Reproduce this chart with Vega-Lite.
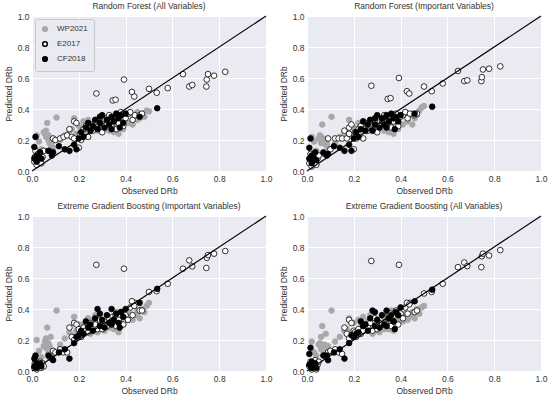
{
"$schema": "https://vega.github.io/schema/vega-lite/v6.json",
"padding": {"left": 4, "top": 1, "right": 2, "bottom": 2},
"background": "#ffffff",
"datasets": {
"diag": [{"x": 0, "y": 0, "x2": 1, "y2": 1}],
"pts": [
{"g":"WP2021","o":0.02,"p1":0.23,"p2":0.22,"p3":0.20,"p4":0.19},
{"g":"WP2021","o":0.03,"p1":0.19,"p2":0.19,"p3":0.13,"p4":0.12},
{"g":"WP2021","o":0.05,"p1":0.25,"p2":0.21,"p3":0.16,"p4":0.17},
{"g":"WP2021","o":0.055,"p1":0.24,"p2":0.23,"p3":0.19,"p4":0.18},
{"g":"WP2021","o":0.06,"p1":0.22,"p2":0.22,"p3":0.21,"p4":0.22},
{"g":"WP2021","o":0.065,"p1":0.31,"p2":0.30,"p3":0.28,"p4":0.29},
{"g":"WP2021","o":0.07,"p1":0.20,"p2":0.19,"p3":0.18,"p4":0.15},
{"g":"WP2021","o":0.07,"p1":0.23,"p2":0.21,"p3":0.12,"p4":0.13},
{"g":"WP2021","o":0.075,"p1":0.18,"p2":0.20,"p3":0.16,"p4":0.17},
{"g":"WP2021","o":0.08,"p1":0.17,"p2":0.17,"p3":0.22,"p4":0.24},
{"g":"WP2021","o":0.085,"p1":0.19,"p2":0.18,"p3":0.11,"p4":0.12},
{"g":"WP2021","o":0.105,"p1":0.345,"p2":0.35,"p3":0.39,"p4":0.39},
{"g":"WP2021","o":0.09,"p1":0.15,"p2":0.15,"p3":0.13,"p4":0.16},
{"g":"WP2021","o":0.04,"p1":0.14,"p2":0.13,"p3":0.09,"p4":0.10},
{"g":"WP2021","o":0.06,"p1":0.26,"p2":0.18,"p3":0.15,"p4":0.14},
{"g":"WP2021","o":0.12,"p1":0.20,"p2":0.18,"p3":0.17,"p4":0.19},
{"g":"WP2021","o":0.14,"p1":0.23,"p2":0.22,"p3":0.21,"p4":0.22},
{"g":"WP2021","o":0.16,"p1":0.26,"p2":0.25,"p3":0.25,"p4":0.26},
{"g":"WP2021","o":0.17,"p1":0.27,"p2":0.22,"p3":0.23,"p4":0.27},
{"g":"WP2021","o":0.18,"p1":0.34,"p2":0.33,"p3":0.35,"p4":0.34},
{"g":"WP2021","o":0.19,"p1":0.24,"p2":0.23,"p3":0.26,"p4":0.25},
{"g":"WP2021","o":0.2,"p1":0.29,"p2":0.28,"p3":0.30,"p4":0.31},
{"g":"WP2021","o":0.21,"p1":0.27,"p2":0.26,"p3":0.22,"p4":0.23},
{"g":"WP2021","o":0.22,"p1":0.32,"p2":0.31,"p3":0.30,"p4":0.33},
{"g":"WP2021","o":0.23,"p1":0.25,"p2":0.26,"p3":0.27,"p4":0.29},
{"g":"WP2021","o":0.24,"p1":0.33,"p2":0.32,"p3":0.34,"p4":0.35},
{"g":"WP2021","o":0.25,"p1":0.28,"p2":0.28,"p3":0.24,"p4":0.26},
{"g":"WP2021","o":0.26,"p1":0.30,"p2":0.31,"p3":0.33,"p4":0.32},
{"g":"WP2021","o":0.27,"p1":0.33,"p2":0.33,"p3":0.36,"p4":0.36},
{"g":"WP2021","o":0.28,"p1":0.26,"p2":0.27,"p3":0.25,"p4":0.24},
{"g":"WP2021","o":0.29,"p1":0.29,"p2":0.29,"p3":0.31,"p4":0.30},
{"g":"WP2021","o":0.30,"p1":0.31,"p2":0.30,"p3":0.27,"p4":0.26},
{"g":"WP2021","o":0.31,"p1":0.27,"p2":0.28,"p3":0.26,"p4":0.25},
{"g":"WP2021","o":0.32,"p1":0.29,"p2":0.29,"p3":0.30,"p4":0.28},
{"g":"WP2021","o":0.33,"p1":0.26,"p2":0.26,"p3":0.28,"p4":0.27},
{"g":"WP2021","o":0.34,"p1":0.33,"p2":0.32,"p3":0.31,"p4":0.32},
{"g":"WP2021","o":0.35,"p1":0.25,"p2":0.25,"p3":0.27,"p4":0.27},
{"g":"WP2021","o":0.36,"p1":0.30,"p2":0.30,"p3":0.32,"p4":0.31},
{"g":"WP2021","o":0.36,"p1":0.37,"p2":0.35,"p3":0.38,"p4":0.39},
{"g":"WP2021","o":0.37,"p1":0.24,"p2":0.24,"p3":0.25,"p4":0.26},
{"g":"WP2021","o":0.38,"p1":0.32,"p2":0.32,"p3":0.33,"p4":0.33},
{"g":"WP2021","o":0.39,"p1":0.27,"p2":0.27,"p3":0.30,"p4":0.31},
{"g":"WP2021","o":0.40,"p1":0.35,"p2":0.36,"p3":0.35,"p4":0.34},
{"g":"WP2021","o":0.41,"p1":0.31,"p2":0.30,"p3":0.33,"p4":0.32},
{"g":"WP2021","o":0.42,"p1":0.37,"p2":0.38,"p3":0.37,"p4":0.37},
{"g":"WP2021","o":0.43,"p1":0.30,"p2":0.32,"p3":0.33,"p4":0.33},
{"g":"WP2021","o":0.44,"p1":0.35,"p2":0.36,"p3":0.36,"p4":0.35},
{"g":"WP2021","o":0.45,"p1":0.38,"p2":0.37,"p3":0.39,"p4":0.38},
{"g":"WP2021","o":0.45,"p1":0.33,"p2":0.30,"p3":0.36,"p4":0.36},
{"g":"WP2021","o":0.46,"p1":0.34,"p2":0.34,"p3":0.34,"p4":0.34},
{"g":"WP2021","o":0.47,"p1":0.37,"p2":0.36,"p3":0.40,"p4":0.40},
{"g":"WP2021","o":0.48,"p1":0.35,"p2":0.39,"p3":0.38,"p4":0.37},
{"g":"WP2021","o":0.49,"p1":0.39,"p2":0.41,"p3":0.42,"p4":0.41},
{"g":"WP2021","o":0.50,"p1":0.385,"p2":0.42,"p3":0.44,"p4":0.42},
{"g":"E2017","o":0.01,"p1":0.06,"p2":0.05,"p3":0.02,"p4":0.03},
{"g":"E2017","o":0.012,"p1":0.09,"p2":0.08,"p3":0.05,"p4":0.04},
{"g":"E2017","o":0.015,"p1":0.13,"p2":0.11,"p3":0.07,"p4":0.06},
{"g":"E2017","o":0.02,"p1":0.04,"p2":0.03,"p3":0.01,"p4":0.01},
{"g":"E2017","o":0.025,"p1":0.11,"p2":0.10,"p3":0.04,"p4":0.05},
{"g":"E2017","o":0.03,"p1":0.07,"p2":0.06,"p3":0.03,"p4":0.02},
{"g":"E2017","o":0.035,"p1":0.12,"p2":0.12,"p3":0.06,"p4":0.07},
{"g":"E2017","o":0.04,"p1":0.05,"p2":0.04,"p3":0.02,"p4":0.01},
{"g":"E2017","o":0.045,"p1":0.09,"p2":0.08,"p3":0.05,"p4":0.04},
{"g":"E2017","o":0.05,"p1":0.13,"p2":0.10,"p3":0.03,"p4":0.06},
{"g":"E2017","o":0.075,"p1":0.13,"p2":0.11,"p3":0.09,"p4":0.10},
{"g":"E2017","o":0.09,"p1":0.21,"p2":0.21,"p3":0.13,"p4":0.12},
{"g":"E2017","o":0.1,"p1":0.20,"p2":0.14,"p3":0.12,"p4":0.13},
{"g":"E2017","o":0.12,"p1":0.21,"p2":0.21,"p3":0.14,"p4":0.14},
{"g":"E2017","o":0.135,"p1":0.22,"p2":0.21,"p3":0.12,"p4":0.12},
{"g":"E2017","o":0.15,"p1":0.23,"p2":0.21,"p3":0.12,"p4":0.11},
{"g":"E2017","o":0.16,"p1":0.27,"p2":0.26,"p3":0.28,"p4":0.28},
{"g":"E2017","o":0.17,"p1":0.22,"p2":0.21,"p3":0.22,"p4":0.24},
{"g":"E2017","o":0.18,"p1":0.32,"p2":0.28,"p3":0.31,"p4":0.33},
{"g":"E2017","o":0.18,"p1":0.21,"p2":0.24,"p3":0.20,"p4":0.21},
{"g":"E2017","o":0.19,"p1":0.31,"p2":0.30,"p3":0.30,"p4":0.31},
{"g":"E2017","o":0.2,"p1":0.15,"p2":0.14,"p3":0.27,"p4":0.26},
{"g":"E2017","o":0.205,"p1":0.24,"p2":0.25,"p3":0.24,"p4":0.25},
{"g":"E2017","o":0.21,"p1":0.20,"p2":0.21,"p3":0.22,"p4":0.22},
{"g":"E2017","o":0.22,"p1":0.27,"p2":0.27,"p3":0.28,"p4":0.27},
{"g":"E2017","o":0.23,"p1":0.29,"p2":0.29,"p3":0.26,"p4":0.24},
{"g":"E2017","o":0.24,"p1":0.22,"p2":0.21,"p3":0.25,"p4":0.26},
{"g":"E2017","o":0.25,"p1":0.30,"p2":0.31,"p3":0.31,"p4":0.30},
{"g":"E2017","o":0.26,"p1":0.26,"p2":0.26,"p3":0.28,"p4":0.29},
{"g":"E2017","o":0.27,"p1":0.32,"p2":0.32,"p3":0.30,"p4":0.31},
{"g":"E2017","o":0.28,"p1":0.28,"p2":0.27,"p3":0.27,"p4":0.26},
{"g":"E2017","o":0.29,"p1":0.34,"p2":0.33,"p3":0.33,"p4":0.34},
{"g":"E2017","o":0.30,"p1":0.25,"p2":0.25,"p3":0.27,"p4":0.27},
{"g":"E2017","o":0.31,"p1":0.30,"p2":0.29,"p3":0.32,"p4":0.31},
{"g":"E2017","o":0.32,"p1":0.34,"p2":0.33,"p3":0.29,"p4":0.30},
{"g":"E2017","o":0.33,"p1":0.36,"p2":0.36,"p3":0.34,"p4":0.35},
{"g":"E2017","o":0.34,"p1":0.29,"p2":0.30,"p3":0.31,"p4":0.30},
{"g":"E2017","o":0.35,"p1":0.33,"p2":0.32,"p3":0.35,"p4":0.36},
{"g":"E2017","o":0.36,"p1":0.27,"p2":0.28,"p3":0.29,"p4":0.29},
{"g":"E2017","o":0.37,"p1":0.31,"p2":0.32,"p3":0.33,"p4":0.32},
{"g":"E2017","o":0.38,"p1":0.38,"p2":0.37,"p3":0.38,"p4":0.39},
{"g":"E2017","o":0.39,"p1":0.29,"p2":0.29,"p3":0.30,"p4":0.30},
{"g":"E2017","o":0.40,"p1":0.34,"p2":0.35,"p3":0.36,"p4":0.37},
{"g":"E2017","o":0.41,"p1":0.37,"p2":0.36,"p3":0.33,"p4":0.34},
{"g":"E2017","o":0.42,"p1":0.38,"p2":0.38,"p3":0.41,"p4":0.41},
{"g":"E2017","o":0.43,"p1":0.33,"p2":0.34,"p3":0.36,"p4":0.37},
{"g":"E2017","o":0.44,"p1":0.36,"p2":0.37,"p3":0.44,"p4":0.44},
{"g":"E2017","o":0.46,"p1":0.36,"p2":0.36,"p3":0.39,"p4":0.38},
{"g":"E2017","o":0.47,"p1":0.37,"p2":0.37,"p3":0.39,"p4":0.39},
{"g":"E2017","o":0.275,"p1":0.50,"p2":0.55,"p3":0.685,"p4":0.71},
{"g":"E2017","o":0.393,"p1":0.59,"p2":0.60,"p3":0.66,"p4":0.685},
{"g":"E2017","o":0.345,"p1":0.455,"p2":0.465,"p3":0.35,"p4":0.34},
{"g":"E2017","o":0.357,"p1":0.46,"p2":0.47,"p3":0.36,"p4":0.37},
{"g":"E2017","o":0.427,"p1":0.51,"p2":0.515,"p3":0.45,"p4":0.44},
{"g":"E2017","o":0.437,"p1":0.48,"p2":0.50,"p3":0.42,"p4":0.43},
{"g":"E2017","o":0.50,"p1":0.53,"p2":0.545,"p3":0.51,"p4":0.50},
{"g":"E2017","o":0.533,"p1":0.505,"p2":0.515,"p3":0.515,"p4":0.51},
{"g":"E2017","o":0.58,"p1":0.535,"p2":0.565,"p3":0.563,"p4":0.563},
{"g":"E2017","o":0.645,"p1":0.625,"p2":0.645,"p3":0.66,"p4":0.67},
{"g":"E2017","o":0.672,"p1":0.545,"p2":0.58,"p3":0.714,"p4":0.70},
{"g":"E2017","o":0.685,"p1":0.555,"p2":0.585,"p3":0.675,"p4":0.677},
{"g":"E2017","o":0.745,"p1":0.545,"p2":0.58,"p3":0.665,"p4":0.67},
{"g":"E2017","o":0.747,"p1":0.59,"p2":0.605,"p3":0.73,"p4":0.74},
{"g":"E2017","o":0.752,"p1":0.625,"p2":0.655,"p3":0.748,"p4":0.757},
{"g":"E2017","o":0.778,"p1":0.615,"p2":0.66,"p3":0.757,"p4":0.745},
{"g":"E2017","o":0.826,"p1":0.64,"p2":0.675,"p3":0.774,"p4":0.78},
{"g":"CF2018","o":0.015,"p1":0.22,"p2":0.21,"p3":0.10,"p4":0.15},
{"g":"CF2018","o":0.01,"p1":0.155,"p2":0.15,"p3":0.08,"p4":0.11},
{"g":"CF2018","o":0.02,"p1":0.10,"p2":0.10,"p3":0.05,"p4":0.06},
{"g":"CF2018","o":0.01,"p1":0.08,"p2":0.08,"p3":0.03,"p4":0.04},
{"g":"CF2018","o":0.03,"p1":0.09,"p2":0.08,"p3":0.04,"p4":0.03},
{"g":"CF2018","o":0.035,"p1":0.12,"p2":0.12,"p3":0.05,"p4":0.05},
{"g":"CF2018","o":0.02,"p1":0.06,"p2":0.05,"p3":0.02,"p4":0.02},
{"g":"CF2018","o":0.04,"p1":0.08,"p2":0.07,"p3":0.03,"p4":0.02},
{"g":"CF2018","o":0.07,"p1":0.13,"p2":0.12,"p3":0.10,"p4":0.10},
{"g":"CF2018","o":0.085,"p1":0.10,"p2":0.10,"p3":0.08,"p4":0.10},
{"g":"CF2018","o":0.09,"p1":0.12,"p2":0.11,"p3":0.07,"p4":0.07},
{"g":"CF2018","o":0.115,"p1":0.16,"p2":0.16,"p3":0.12,"p4":0.12},
{"g":"CF2018","o":0.14,"p1":0.14,"p2":0.15,"p3":0.14,"p4":0.14},
{"g":"CF2018","o":0.16,"p1":0.13,"p2":0.13,"p3":0.08,"p4":0.08},
{"g":"CF2018","o":0.18,"p1":0.17,"p2":0.17,"p3":0.18,"p4":0.18},
{"g":"CF2018","o":0.19,"p1":0.14,"p2":0.13,"p3":0.22,"p4":0.23},
{"g":"CF2018","o":0.2,"p1":0.21,"p2":0.21,"p3":0.23,"p4":0.22},
{"g":"CF2018","o":0.21,"p1":0.25,"p2":0.25,"p3":0.26,"p4":0.24},
{"g":"CF2018","o":0.22,"p1":0.22,"p2":0.22,"p3":0.24,"p4":0.25},
{"g":"CF2018","o":0.23,"p1":0.28,"p2":0.27,"p3":0.32,"p4":0.32},
{"g":"CF2018","o":0.24,"p1":0.31,"p2":0.32,"p3":0.28,"p4":0.29},
{"g":"CF2018","o":0.25,"p1":0.26,"p2":0.26,"p3":0.30,"p4":0.30},
{"g":"CF2018","o":0.26,"p1":0.29,"p2":0.30,"p3":0.26,"p4":0.26},
{"g":"CF2018","o":0.27,"p1":0.33,"p2":0.33,"p3":0.34,"p4":0.34},
{"g":"CF2018","o":0.28,"p1":0.27,"p2":0.26,"p3":0.40,"p4":0.39},
{"g":"CF2018","o":0.29,"p1":0.31,"p2":0.30,"p3":0.29,"p4":0.29},
{"g":"CF2018","o":0.29,"p1":0.35,"p2":0.34,"p3":0.37,"p4":0.38},
{"g":"CF2018","o":0.30,"p1":0.36,"p2":0.36,"p3":0.33,"p4":0.33},
{"g":"CF2018","o":0.31,"p1":0.28,"p2":0.28,"p3":0.28,"p4":0.28},
{"g":"CF2018","o":0.32,"p1":0.33,"p2":0.34,"p3":0.36,"p4":0.36},
{"g":"CF2018","o":0.33,"p1":0.30,"p2":0.30,"p3":0.31,"p4":0.30},
{"g":"CF2018","o":0.34,"p1":0.35,"p2":0.36,"p3":0.40,"p4":0.39},
{"g":"CF2018","o":0.34,"p1":0.27,"p2":0.28,"p3":0.30,"p4":0.29},
{"g":"CF2018","o":0.35,"p1":0.32,"p2":0.32,"p3":0.33,"p4":0.34},
{"g":"CF2018","o":0.36,"p1":0.37,"p2":0.37,"p3":0.37,"p4":0.36},
{"g":"CF2018","o":0.37,"p1":0.34,"p2":0.34,"p3":0.31,"p4":0.32},
{"g":"CF2018","o":0.375,"p1":0.28,"p2":0.27,"p3":0.28,"p4":0.27},
{"g":"CF2018","o":0.38,"p1":0.36,"p2":0.35,"p3":0.38,"p4":0.38},
{"g":"CF2018","o":0.39,"p1":0.31,"p2":0.32,"p3":0.35,"p4":0.36},
{"g":"CF2018","o":0.40,"p1":0.37,"p2":0.36,"p3":0.40,"p4":0.41},
{"g":"CF2018","o":0.46,"p1":0.35,"p2":0.37,"p3":0.44,"p4":0.45},
{"g":"CF2018","o":0.535,"p1":0.405,"p2":0.415,"p3":0.53,"p4":0.525}
]
},
"columns": 2,
"spacing": {"column": 7, "row": 6},
"resolve": {"scale": {"fill": "independent", "stroke": "independent"}, "legend": {"fill": "independent", "stroke": "independent"}},
"concat": [
{
"title": "Random Forest (All Variables)",
"width": 234, "height": 155,
"layer": [
{"data": {"name": "pts"},
"mark": {"type": "point", "shape": "circle", "filled": true, "size": 32, "strokeWidth": 0.8, "opacity": 1},
"encoding": {
"x": {"field": "o", "type": "quantitative", "title": "Observed DRb", "scale": {"domain": [0, 1], "nice": false}, "axis": {"values": [0, 0.2, 0.4, 0.6, 0.8, 1], "tickCount": 12, "format": ".1f", "labelOverlap": false}},
"y": {"field": "p1", "type": "quantitative", "title": "Predicted DRb", "scale": {"domain": [0, 1], "nice": false}, "axis": {"values": [0, 0.2, 0.4, 0.6, 0.8, 1], "tickCount": 12, "format": ".1f", "labelOverlap": false}},
"fill": {"field": "g", "type": "nominal", "sort": null, "scale": {"domain": ["WP2021", "E2017", "CF2018"], "range": ["#a8a8a8", "#ffffff", "#000000"]}, "legend": {"title": null, "orient": "top-left", "offset": 3, "fillColor": "#eaeaf2", "strokeColor": "#c8c8c8", "padding": 6, "cornerRadius": 2, "labelFontSize": 8, "symbolSize": 22, "rowPadding": 3, "labelOffset": 8, "labelColor": "#333333"}},
"stroke": {"field": "g", "type": "nominal", "sort": null, "scale": {"domain": ["WP2021", "E2017", "CF2018"], "range": ["#a8a8a8", "#000000", "#000000"]}, "legend": {"title": null, "orient": "top-left", "offset": 3, "fillColor": "#eaeaf2", "strokeColor": "#c8c8c8", "padding": 6, "cornerRadius": 2, "labelFontSize": 8, "symbolSize": 22, "rowPadding": 3, "labelOffset": 8, "labelColor": "#333333"}}
}},
{"data": {"name": "diag"}, "mark": {"type": "rule", "color": "#000000", "strokeWidth": 1.2},
"encoding": {"x": {"field": "x", "type": "quantitative"}, "y": {"field": "y", "type": "quantitative"}, "x2": {"field": "x2"}, "y2": {"field": "y2"}}}
]
},
{
"title": "Random Forest (Important Variables)",
"width": 234, "height": 155,
"layer": [
{"data": {"name": "pts"},
"mark": {"type": "point", "shape": "circle", "filled": true, "size": 32, "strokeWidth": 0.8, "opacity": 1},
"encoding": {
"x": {"field": "o", "type": "quantitative", "title": "Observed DRb", "scale": {"domain": [0, 1], "nice": false}, "axis": {"values": [0, 0.2, 0.4, 0.6, 0.8, 1], "tickCount": 12, "format": ".1f", "labelOverlap": false}},
"y": {"field": "p2", "type": "quantitative", "title": "Predicted DRb", "scale": {"domain": [0, 1], "nice": false}, "axis": {"values": [0, 0.2, 0.4, 0.6, 0.8, 1], "tickCount": 12, "format": ".1f", "labelOverlap": false}},
"fill": {"field": "g", "type": "nominal", "sort": null, "scale": {"domain": ["WP2021", "E2017", "CF2018"], "range": ["#a8a8a8", "#ffffff", "#000000"]}, "legend": null},
"stroke": {"field": "g", "type": "nominal", "sort": null, "scale": {"domain": ["WP2021", "E2017", "CF2018"], "range": ["#a8a8a8", "#000000", "#000000"]}, "legend": null}
}},
{"data": {"name": "diag"}, "mark": {"type": "rule", "color": "#000000", "strokeWidth": 1.2},
"encoding": {"x": {"field": "x", "type": "quantitative"}, "y": {"field": "y", "type": "quantitative"}, "x2": {"field": "x2"}, "y2": {"field": "y2"}}}
]
},
{
"title": "Extreme Gradient Boosting (Important Variables)",
"width": 234, "height": 155,
"layer": [
{"data": {"name": "pts"},
"mark": {"type": "point", "shape": "circle", "filled": true, "size": 32, "strokeWidth": 0.8, "opacity": 1},
"encoding": {
"x": {"field": "o", "type": "quantitative", "title": "Observed DRb", "scale": {"domain": [0, 1], "nice": false}, "axis": {"values": [0, 0.2, 0.4, 0.6, 0.8, 1], "tickCount": 12, "format": ".1f", "labelOverlap": false}},
"y": {"field": "p3", "type": "quantitative", "title": "Predicted DRb", "scale": {"domain": [0, 1], "nice": false}, "axis": {"values": [0, 0.2, 0.4, 0.6, 0.8, 1], "tickCount": 12, "format": ".1f", "labelOverlap": false}},
"fill": {"field": "g", "type": "nominal", "sort": null, "scale": {"domain": ["WP2021", "E2017", "CF2018"], "range": ["#a8a8a8", "#ffffff", "#000000"]}, "legend": null},
"stroke": {"field": "g", "type": "nominal", "sort": null, "scale": {"domain": ["WP2021", "E2017", "CF2018"], "range": ["#a8a8a8", "#000000", "#000000"]}, "legend": null}
}},
{"data": {"name": "diag"}, "mark": {"type": "rule", "color": "#000000", "strokeWidth": 1.2},
"encoding": {"x": {"field": "x", "type": "quantitative"}, "y": {"field": "y", "type": "quantitative"}, "x2": {"field": "x2"}, "y2": {"field": "y2"}}}
]
},
{
"title": "Extreme Gradient Boosting (All Variables)",
"width": 234, "height": 155,
"layer": [
{"data": {"name": "pts"},
"mark": {"type": "point", "shape": "circle", "filled": true, "size": 32, "strokeWidth": 0.8, "opacity": 1},
"encoding": {
"x": {"field": "o", "type": "quantitative", "title": "Observed DRb", "scale": {"domain": [0, 1], "nice": false}, "axis": {"values": [0, 0.2, 0.4, 0.6, 0.8, 1], "tickCount": 12, "format": ".1f", "labelOverlap": false}},
"y": {"field": "p4", "type": "quantitative", "title": "Predicted DRb", "scale": {"domain": [0, 1], "nice": false}, "axis": {"values": [0, 0.2, 0.4, 0.6, 0.8, 1], "tickCount": 12, "format": ".1f", "labelOverlap": false}},
"fill": {"field": "g", "type": "nominal", "sort": null, "scale": {"domain": ["WP2021", "E2017", "CF2018"], "range": ["#a8a8a8", "#ffffff", "#000000"]}, "legend": null},
"stroke": {"field": "g", "type": "nominal", "sort": null, "scale": {"domain": ["WP2021", "E2017", "CF2018"], "range": ["#a8a8a8", "#000000", "#000000"]}, "legend": null}
}},
{"data": {"name": "diag"}, "mark": {"type": "rule", "color": "#000000", "strokeWidth": 1.2},
"encoding": {"x": {"field": "x", "type": "quantitative"}, "y": {"field": "y", "type": "quantitative"}, "x2": {"field": "x2"}, "y2": {"field": "y2"}}}
]
}
],
"config": {
"font": "Liberation Sans",
"view": {"fill": "#eaeaf2", "stroke": null},
"axis": {"grid": true, "gridColor": "#ffffff", "gridWidth": 1, "domain": false, "ticks": false, "labelFontSize": 8.5, "labelColor": "#333333", "labelFlush": false, "labelOverlap": false, "labelPadding": 3, "titleFontSize": 8.5, "titleFontWeight": "normal", "titleColor": "#333333", "titlePadding": 4},
"axisY": {"tickCount": 12, "labelOverlap": false},
"title": {"fontSize": 8.5, "fontWeight": "normal", "color": "#333333", "offset": 2},
"legend": {"labelFont": "Liberation Sans"}
}
}
